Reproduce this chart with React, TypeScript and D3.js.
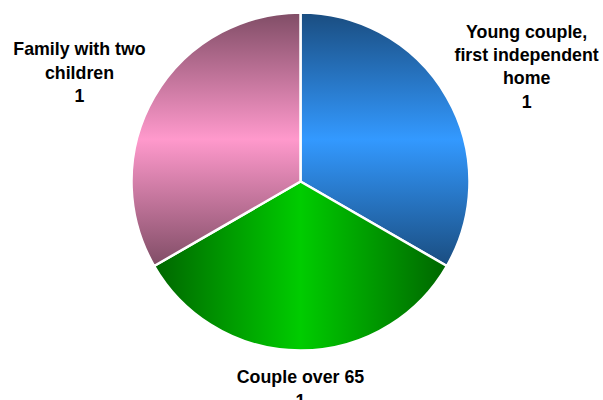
import React from "react";
import * as d3 from "d3";

const categories: string[][] = [
  ["Young couple,", "first independent", "home"],
  ["Couple over 65"],
  ["Family with two", "children"],
];
const values: number[] = [1, 1, 1];
const colors: string[] = ["#3399ff", "#00cc00", "#ff99cc"];

const W = 603;
const H = 400;
const CX = 300.5;
const CY = 181.5;
const R = 169;
const FONT_SIZE = 17.8;
const FONT = `bold ${FONT_SIZE}px 'Liberation Sans', Arial, sans-serif`;
const LINE_H = 23.3;
const LABEL_R = 189;

function measure(text: string): number {
  if (typeof document === "undefined") return text.length * 9;
  const c = document.createElement("canvas");
  const ctx = c.getContext("2d");
  if (!ctx) return text.length * 9;
  ctx.font = FONT;
  return ctx.measureText(text).width;
}

export default function App() {
  const pie = d3
    .pie<number>()
    .sort(null)
    .startAngle(0)
    .endAngle(2 * Math.PI)
    .value((d) => d);
  const arcs = pie(values);
  const arcGen = d3.arc<d3.PieArcDatum<number>>().innerRadius(0).outerRadius(R);

  return (
    <svg
      width={W}
      height={H}
      style={{ position: "absolute", left: 0, top: 0 }}
      fontFamily="'Liberation Sans', Arial, sans-serif"
    >
      <defs>
        {arcs.map((a, i) => {
          const mid = (a.startAngle + a.endAngle) / 2;
          const ux = Math.sin(mid);
          const uy = -Math.cos(mid);
          const vertical = Math.abs(ux) > Math.abs(uy);
          const b = d3.rgb(colors[i]);
          const dk = d3.rgb(Math.round(b.r * 0.5), Math.round(b.g * 0.5), Math.round(b.b * 0.5));
          return (
            <linearGradient
              key={i}
              id={`g${i}`}
              x1="0"
              y1="0"
              x2={vertical ? "0" : "1"}
              y2={vertical ? "1" : "0"}
            >
              <stop offset="0" stopColor={dk.formatHex()} />
              <stop offset="0.5" stopColor={colors[i]} />
              <stop offset="1" stopColor={dk.formatHex()} />
            </linearGradient>
          );
        })}
      </defs>
      <g transform={`translate(${CX},${CY})`}>
        {arcs.map((a, i) => (
          <path
            key={i}
            d={arcGen(a) || ""}
            fill={`url(#g${i})`}
            stroke="#ffffff"
            strokeWidth={2.5}
            strokeLinejoin="round"
          />
        ))}
        {arcs.map((a, i) => {
          const mid = (a.startAngle + a.endAngle) / 2;
          const ux = Math.sin(mid);
          const uy = -Math.cos(mid);
          const lines = [...categories[i], String(values[i])];
          const w = Math.max(...lines.map(measure));
          const capH = 12.8;
          const h = capH + (lines.length - 1) * LINE_H;
          const px = LABEL_R * ux;
          const py = LABEL_R * uy;
          const bx = px + (ux * w) / 2;
          const by = py + (uy * h) / 2;
          const firstBaseline = by - h / 2 + capH;
          return (
            <text
              key={`t${i}`}
              textAnchor="middle"
              fontSize={FONT_SIZE}
              fontWeight="bold"
              fill="#000000"
            >
              {lines.map((l, j) => (
                <tspan key={j} x={bx} y={firstBaseline + j * LINE_H}>
                  {l}
                </tspan>
              ))}
            </text>
          );
        })}
      </g>
    </svg>
  );
}
